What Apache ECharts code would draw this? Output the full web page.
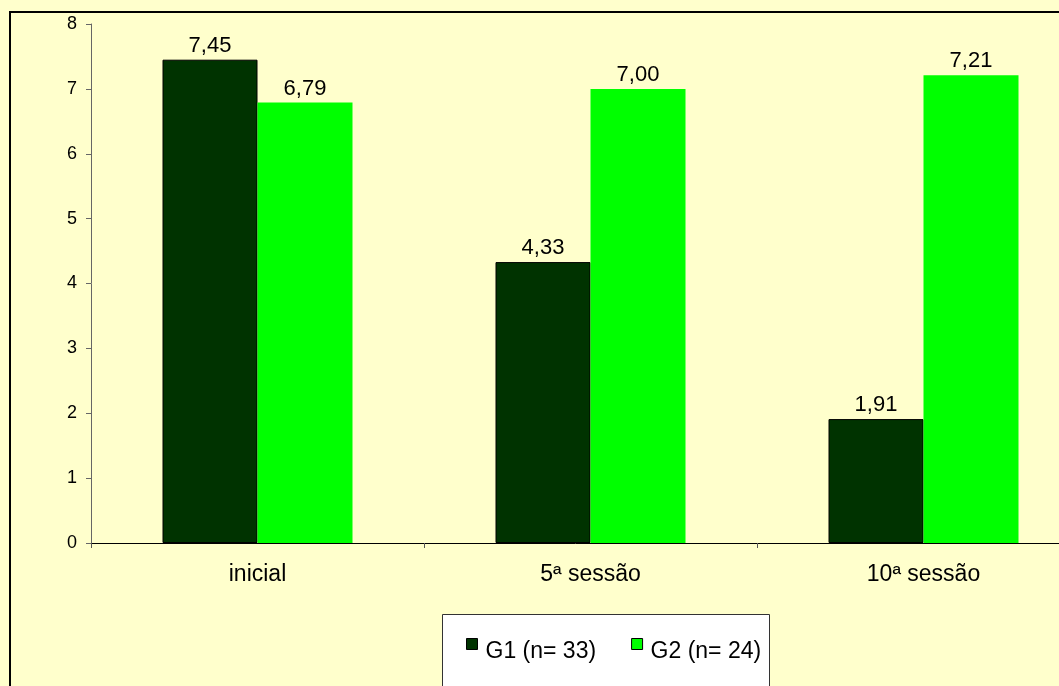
<!DOCTYPE html>
<html>
<head>
<meta charset="utf-8">
<script src="https://cdn.jsdelivr.net/npm/echarts@6/dist/echarts.min.js"></script>
<style>
  html, body { margin: 0; padding: 0; background: #FFFFCC; }
  #chart { width: 1059px; height: 686px; }
</style>
</head>
<body>
<div id="chart"></div>
<script>
// Sessions and mean scores for each group
const categories = ['inicial', '5ª sessão', '10ª sessão'];
const seriesNames = ['G1 (n= 33)', 'G2 (n= 24)'];
const g1Values = [7.45, 4.33, 1.91];
const g2Values = [6.79, 7.00, 7.21];
const yTicks = [0, 1, 2, 3, 4, 5, 6, 7, 8];

const FONT = '"Liberation Sans", Arial, sans-serif';
const fmt = v => v.toFixed(2).replace('.', ',');

// Legend swatch sits in the upper part of a taller box, so it rides above the text
const legendIcon = 'path://M0,0h11v11h-11zM0,27';

const chart = echarts.init(document.getElementById('chart'));

const labelStyle = {
  show: true,
  position: 'top',
  distance: 3,
  color: '#000',
  fontFamily: FONT,
  fontSize: 22,
  formatter: p => fmt(p.value)
};

chart.setOption({
  backgroundColor: '#FFFFCC',
  animation: false,
  textStyle: { fontFamily: FONT },
  graphic: [
    {
      type: 'rect',
      z: -10,
      shape: { x: 10, y: 12, width: 1200, height: 800 },
      style: { fill: '#FFFFCC', stroke: '#000', lineWidth: 2 }
    },
    {
      type: 'rect',
      z: -5,
      shape: { x: 442.5, y: 614.5, width: 327, height: 120 },
      style: { fill: '#FFFFFF', stroke: '#333', lineWidth: 1 }
    }
  ],
  grid: {
    left: 91,
    top: 24,
    width: 999,
    height: 519,
    containLabel: false,
    outerBoundsMode: 'none'
  },
  legend: {
    data: seriesNames,
    left: 466,
    top: 638,
    padding: 0,
    icon: legendIcon,
    itemWidth: 11,
    itemHeight: 27,
    itemGap: 35,
    itemStyle: { borderColor: '#000', borderWidth: 1 },
    textStyle: {
      fontFamily: FONT, fontSize: 23, color: '#000',
      padding: [0, 0, 0, 3]
    }
  },
  xAxis: {
    type: 'category',
    data: categories,
    axisLine: { show: true, lineStyle: { color: '#000', width: 1 } },
    axisTick: { show: true, length: 5, inside: false, lineStyle: { color: '#555' } },
    axisLabel: { color: '#000', fontFamily: FONT, fontSize: 23, margin: 20 },
    splitLine: { show: false }
  },
  yAxis: {
    type: 'value',
    min: 0,
    max: 8,
    interval: 1,
    axisLine: { show: true, lineStyle: { color: '#666', width: 1 } },
    axisTick: { show: true, length: 5, lineStyle: { color: '#666' } },
    axisLabel: {
      color: '#000', fontFamily: FONT, fontSize: 18, margin: 14,
      formatter: v => (yTicks.includes(v) ? String(v) : '')
    },
    splitLine: { show: false }
  },
  series: [
    {
      name: seriesNames[0],
      type: 'bar',
      data: g1Values,
      barWidth: 95,
      barGap: '0%',
      itemStyle: { color: '#003300', borderColor: '#000', borderWidth: 1 },
      label: labelStyle
    },
    {
      name: seriesNames[1],
      type: 'bar',
      data: g2Values,
      barWidth: 95,
      barGap: '0%',
      itemStyle: { color: '#00FF00' },
      label: labelStyle
    }
  ]
});
</script>
</body>
</html>
